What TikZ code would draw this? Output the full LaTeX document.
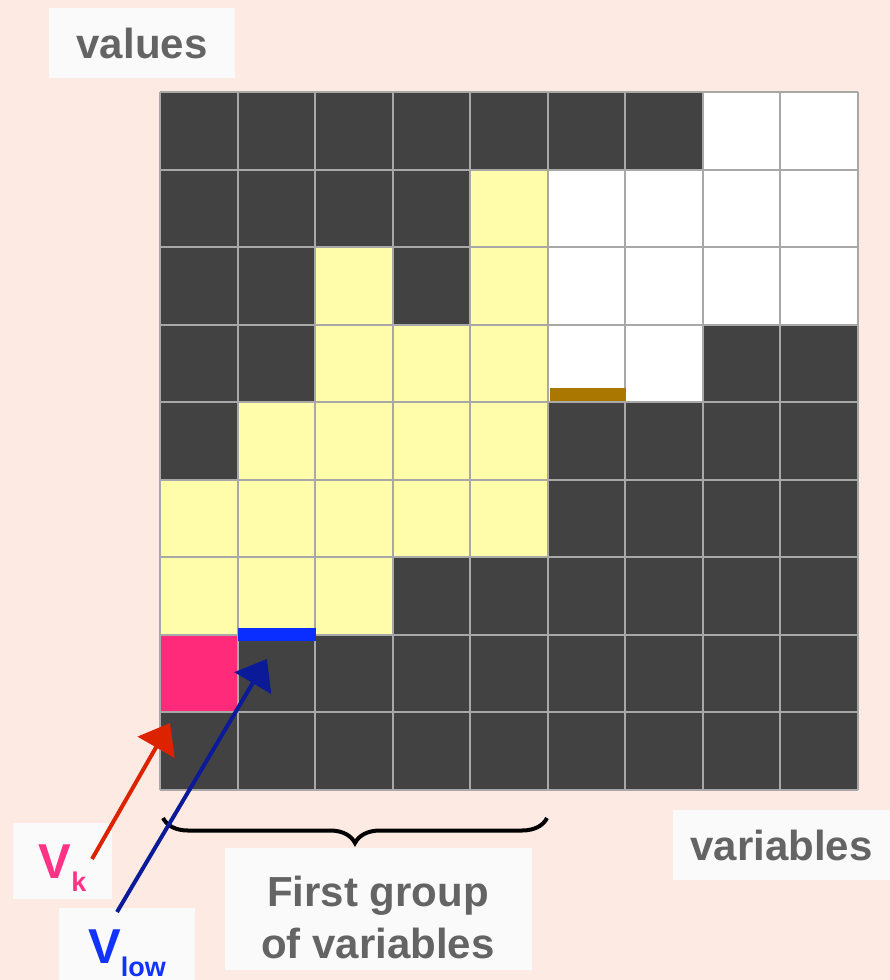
\documentclass[tikz,border=0pt]{standalone}
\usepackage{fontspec}
\setmainfont{Liberation Sans}
\usetikzlibrary{arrows.meta,decorations.pathreplacing,positioning}
\definecolor{bgcolor}{HTML}{FDEBE3}
\definecolor{cellD}{HTML}{424242}
\definecolor{cellW}{HTML}{FFFFFF}
\definecolor{cellY}{HTML}{FFFDAA}
\definecolor{cellP}{HTML}{FF2A7A}
\definecolor{gridcolor}{HTML}{A8A8A8}
\definecolor{lowbar}{HTML}{0A2EFF}
\definecolor{highbar}{HTML}{AA7700}
\definecolor{vkcolor}{HTML}{FF3385}
\definecolor{vlowcolor}{HTML}{1133FF}
\definecolor{vkarrow}{HTML}{DD2200}
\definecolor{vlowarrow}{HTML}{0A1A99}
\definecolor{boxfill}{HTML}{FAFAFA}
\definecolor{labelgray}{HTML}{646464}
\newcommand{\cellsz}{77.556}

\begin{document}
\begin{tikzpicture}[
    x=1pt, y=-1pt,
    labelbox/.style={
        fill=boxfill,
        inner sep=0pt,
        align=center,
        text=labelgray,
        font=\fontsize{42}{52}\selectfont\bfseries
    },
    markbox/.style={fill=boxfill, inner sep=0pt, font=\bfseries},
    gridline/.style={draw=gridcolor, line width=2pt},
    pointer/.style={line width=4pt, -{Triangle[length=28pt,width=42pt]}}
]

% --- BACKGROUND ---
\fill[bgcolor] (0,0) rectangle (890,980);
\useasboundingbox (0,0) rectangle (890,980);

% --- CELLS (rows from top) ---
\foreach \rowcells [count=\r from 0] in {
    {D,D,D,D,D,D,D,W,W},
    {D,D,D,D,Y,W,W,W,W},
    {D,D,Y,D,Y,W,W,W,W},
    {D,D,Y,Y,Y,W,W,D,D},
    {D,Y,Y,Y,Y,D,D,D,D},
    {Y,Y,Y,Y,Y,D,D,D,D},
    {Y,Y,Y,D,D,D,D,D,D},
    {P,D,D,D,D,D,D,D,D},
    {D,D,D,D,D,D,D,D,D}}
{
    \foreach \kind [count=\c from 0] in \rowcells {
        \fill[cell\kind] (160+\c*\cellsz, 92+\r*\cellsz) rectangle ++(\cellsz,\cellsz);
    }
}

% grid lines
\foreach \i in {0,...,9} {
    \draw[gridline] (160+\i*\cellsz, 92) -- (160+\i*\cellsz, 790);
    \draw[gridline] (160, 92+\i*\cellsz) -- (858, 92+\i*\cellsz);
}

% bounds
\fill[lowbar] (238,628) rectangle (316,641);
\fill[highbar] (550,388) rectangle (626,401);

% --- LABELS ---
\node[labelbox, minimum width=186pt, minimum height=70pt] (values) at (142,43) {values};
\node[labelbox, minimum width=217pt, minimum height=70pt] (variables) at (781.5,845) {variables};
\node[labelbox, minimum width=307pt, minimum height=122pt,
      text height=100pt, text depth=2pt] (firstgroup) at (378,909) {First group\\of variables};

\node[markbox, minimum width=99pt, minimum height=76pt, text=vkcolor,
      text height=45pt, text depth=11pt] (vk) at (62.5,861)
    {{\fontsize{49}{49}\selectfont V}\raisebox{-13pt}{\fontsize{27}{27}\selectfont k}};
\node[markbox, minimum width=136pt, minimum height=72pt, text=vlowcolor,
      text height=50pt, text depth=12pt] (vlow) at (127,944)
    {{\fontsize{49}{49}\selectfont V}\raisebox{-13pt}{\fontsize{27}{27}\selectfont low}};

% --- BRACE ---
\draw[line width=4pt, decorate, decoration={brace, amplitude=25pt, mirror}]
    (163,818) -- (547,818);

% --- POINTERS ---
\coordinate (vkfoot) at (92,859);
\coordinate (vkcell) at (170,723);
\coordinate (vlowfoot) at (117,912);
\coordinate (vlowcell) at (267,659);

\draw[pointer, vkarrow] (vkfoot) -- (vkcell);
\draw[pointer, vlowarrow] (vlowfoot) -- (vlowcell);

\end{tikzpicture}
\end{document}
